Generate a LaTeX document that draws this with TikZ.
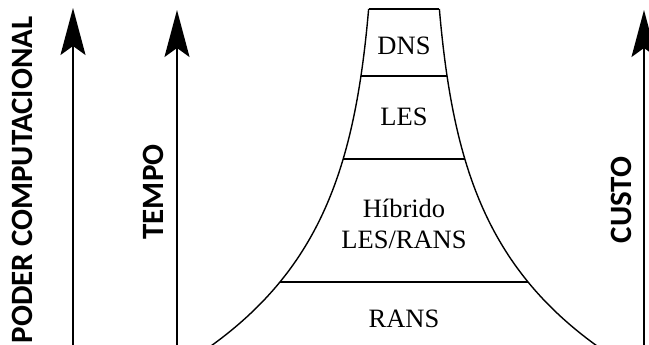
\documentclass[tikz,border=0pt]{standalone}
\usepackage{fontspec}
\setmainfont{Liberation Serif}
\newfontfamily\labelfont{Carlito}
\usetikzlibrary{arrows.meta}
\begin{document}
\begin{tikzpicture}[x=1pt,y=-1pt,
  axis/.style={line width=2pt,-{Stealth[length=47pt,width=25pt,inset=9pt]}},
  axislabel/.style={font=\labelfont\bfseries\fontsize{31}{31}\selectfont,rotate=90,inner sep=0pt},
  level/.style={font=\fontsize{26.5}{30}\selectfont,inner sep=0pt,anchor=base},
  edge/.style={line width=1.4pt,line join=round}]
\useasboundingbox (0,0) rectangle (649,345);
% axes
\coordinate (a1s) at (73,345); \coordinate (a1e) at (73,8);
\coordinate (a2s) at (177,345); \coordinate (a2e) at (177,10);
\coordinate (a3s) at (644,345); \coordinate (a3e) at (644,10);
\draw[axis] (a1s) -- (a1e);
\draw[axis] (a2s) -- (a2e);
\draw[axis] (a3s) -- (a3e);
\node[axislabel] (lpoder) at (22,180) {PODER COMPUTACIONAL};
\node[axislabel] (ltempo) at (153,192) {TEMPO};
\node[axislabel] (lcusto) at (621,200) {CUSTO};
% pyramid: half width h(y) = 25 + 9.63 exp(y/121), centred at x = 404
\coordinate (l0) at (368.6,9);  \coordinate (r0) at (439.4,9);
\coordinate (l1) at (361,76);   \coordinate (r1) at (447,76);
\coordinate (l2) at (343.2,159); \coordinate (r2) at (464.8,159);
\coordinate (l3) at (280,282);  \coordinate (r3) at (528,282);
\draw[edge] plot[domain=9:346,samples=80,variable=\t] ({404-25-9.63*exp(\t/121)},\t);
\draw[edge] plot[domain=9:346,samples=80,variable=\t] ({404+25+9.63*exp(\t/121)},\t);
\draw[edge] (l0) -- (r0);
\draw[edge] (l1) -- (r1);
\draw[edge] (l2) -- (r2);
\draw[edge] (l3) -- (r3);
% labels
\node[level] (dns) at (404,55) {DNS};
\node[level] (les) at (404,125) {LES};
\node[level] (hyb1) at (404,218) {Híbrido};
\node[level] (hyb2) at (404,248) {LES/RANS};
\node[level] (rans) at (404,327) {RANS};
\end{tikzpicture}
\end{document}
